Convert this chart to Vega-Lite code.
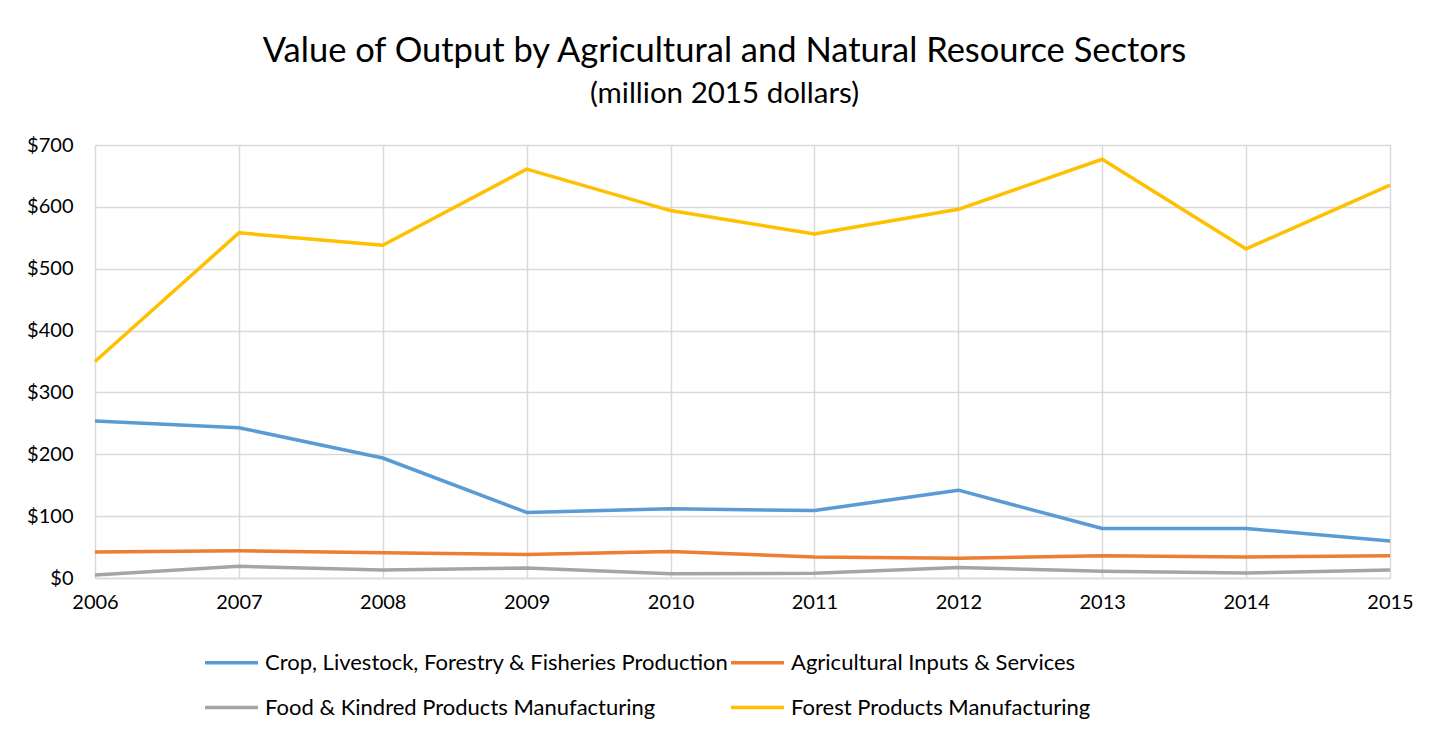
{
  "$schema": "https://vega.github.io/schema/vega-lite/v6.json",
  "autosize": {"type": "none"},
  "width": 1295,
  "height": 433,
  "padding": {"left": 95, "top": 145, "right": 58, "bottom": 161},
  "background": "white",
  "title": {
    "text": "Value of Output by Agricultural and Natural Resource Sectors",
    "subtitle": "(million 2015 dollars)",
    "anchor": "middle",
    "dx": -18,
    "offset": 26,
    "font": "Lato",
    "fontSize": 34.5,
    "fontWeight": "normal",
    "color": "#000000",
    "subtitleFont": "Lato",
    "subtitleFontSize": 29.5,
    "subtitleColor": "#000000",
    "subtitlePadding": 10
  },
  "data": {
    "values": [
      {"year": 2006, "series": "Crop, Livestock, Forestry & Fisheries Production", "value": 254},
      {"year": 2007, "series": "Crop, Livestock, Forestry & Fisheries Production", "value": 243},
      {"year": 2008, "series": "Crop, Livestock, Forestry & Fisheries Production", "value": 194},
      {"year": 2009, "series": "Crop, Livestock, Forestry & Fisheries Production", "value": 106},
      {"year": 2010, "series": "Crop, Livestock, Forestry & Fisheries Production", "value": 112},
      {"year": 2011, "series": "Crop, Livestock, Forestry & Fisheries Production", "value": 109},
      {"year": 2012, "series": "Crop, Livestock, Forestry & Fisheries Production", "value": 142},
      {"year": 2013, "series": "Crop, Livestock, Forestry & Fisheries Production", "value": 80},
      {"year": 2014, "series": "Crop, Livestock, Forestry & Fisheries Production", "value": 80},
      {"year": 2015, "series": "Crop, Livestock, Forestry & Fisheries Production", "value": 60},
      {"year": 2006, "series": "Agricultural Inputs & Services", "value": 42},
      {"year": 2007, "series": "Agricultural Inputs & Services", "value": 44},
      {"year": 2008, "series": "Agricultural Inputs & Services", "value": 41},
      {"year": 2009, "series": "Agricultural Inputs & Services", "value": 38},
      {"year": 2010, "series": "Agricultural Inputs & Services", "value": 43},
      {"year": 2011, "series": "Agricultural Inputs & Services", "value": 34},
      {"year": 2012, "series": "Agricultural Inputs & Services", "value": 32},
      {"year": 2013, "series": "Agricultural Inputs & Services", "value": 36},
      {"year": 2014, "series": "Agricultural Inputs & Services", "value": 34},
      {"year": 2015, "series": "Agricultural Inputs & Services", "value": 36},
      {"year": 2006, "series": "Food & Kindred Products Manufacturing", "value": 5},
      {"year": 2007, "series": "Food & Kindred Products Manufacturing", "value": 19},
      {"year": 2008, "series": "Food & Kindred Products Manufacturing", "value": 13},
      {"year": 2009, "series": "Food & Kindred Products Manufacturing", "value": 16},
      {"year": 2010, "series": "Food & Kindred Products Manufacturing", "value": 7},
      {"year": 2011, "series": "Food & Kindred Products Manufacturing", "value": 7.5},
      {"year": 2012, "series": "Food & Kindred Products Manufacturing", "value": 17},
      {"year": 2013, "series": "Food & Kindred Products Manufacturing", "value": 11},
      {"year": 2014, "series": "Food & Kindred Products Manufacturing", "value": 8},
      {"year": 2015, "series": "Food & Kindred Products Manufacturing", "value": 13},
      {"year": 2006, "series": "Forest Products Manufacturing", "value": 350},
      {"year": 2007, "series": "Forest Products Manufacturing", "value": 558},
      {"year": 2008, "series": "Forest Products Manufacturing", "value": 538},
      {"year": 2009, "series": "Forest Products Manufacturing", "value": 661},
      {"year": 2010, "series": "Forest Products Manufacturing", "value": 594},
      {"year": 2011, "series": "Forest Products Manufacturing", "value": 556},
      {"year": 2012, "series": "Forest Products Manufacturing", "value": 596},
      {"year": 2013, "series": "Forest Products Manufacturing", "value": 677},
      {"year": 2014, "series": "Forest Products Manufacturing", "value": 532},
      {"year": 2015, "series": "Forest Products Manufacturing", "value": 635}
    ]
  },
  "mark": {"type": "line", "strokeWidth": 3.5, "strokeJoin": "round"},
  "encoding": {
    "x": {
      "field": "year",
      "type": "quantitative",
      "scale": {"domain": [2006, 2015], "nice": false, "zero": false},
      "axis": {
        "title": null,
        "format": "d",
        "values": [2006, 2007, 2008, 2009, 2010, 2011, 2012, 2013, 2014, 2015],
        "labelFont": "Lato",
        "labelFontSize": 20,
        "labelColor": "#000000",
        "labelPadding": 14,
        "ticks": false,
        "domainColor": "#D9D9D9",
        "domainWidth": 1.5,
        "grid": true,
        "gridColor": "#D9D9D9",
        "gridWidth": 1.5,
        "labelFlush": false
      }
    },
    "y": {
      "field": "value",
      "type": "quantitative",
      "scale": {"domain": [0, 700], "nice": false},
      "axis": {
        "title": null,
        "format": "$.0f",
        "values": [0, 100, 200, 300, 400, 500, 600, 700],
        "labelFont": "Lato",
        "labelFontSize": 20,
        "labelColor": "#000000",
        "labelPadding": 22,
        "ticks": false,
        "domain": false,
        "grid": true,
        "gridColor": "#D9D9D9",
        "gridWidth": 1.5
      }
    },
    "color": {
      "field": "series",
      "type": "nominal",
      "sort": ["Crop, Livestock, Forestry & Fisheries Production", "Agricultural Inputs & Services", "Food & Kindred Products Manufacturing", "Forest Products Manufacturing"],
      "scale": {
        "domain": ["Crop, Livestock, Forestry & Fisheries Production", "Agricultural Inputs & Services", "Food & Kindred Products Manufacturing", "Forest Products Manufacturing"],
        "range": ["#5B9BD5", "#ED7D31", "#A5A5A5", "#FFC000"]
      },
      "legend": {
        "title": null,
        "orient": "none",
        "legendX": 108,
        "legendY": 489,
        "direction": "horizontal",
        "columns": 2,
        "symbolType": "stroke",
        "symbolSize": 2809,
        "symbolStrokeWidth": 3.5,
        "labelFont": "Lato",
        "labelFontSize": 22,
        "labelColor": "#000000",
        "labelOffset": 5,
        "labelLimit": 600,
        "rowPadding": 5,
        "columnPadding": -6
      }
    }
  },
  "config": {
    "view": {"stroke": null}
  }
}
